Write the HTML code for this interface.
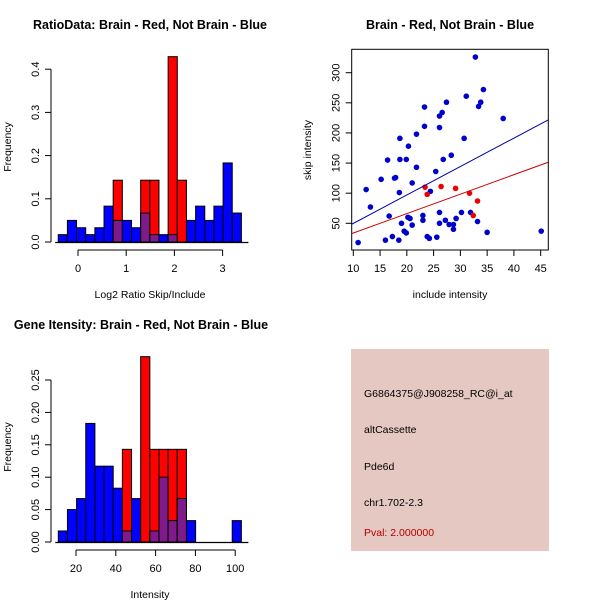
<!DOCTYPE html>
<html><head><meta charset="utf-8"><style>
body{margin:0;background:#fff;}
svg{display:block;font-family:"Liberation Sans",sans-serif;}
</style></head><body>
<svg id="s" width="600" height="600" viewBox="0 0 600 600">
<rect x="351" y="349" width="198" height="202" fill="#e5c8c2"/>
<g font-size="10.5" fill="#000">
<text x="364" y="397">G6864375@J908258_RC@i_at</text>
<text x="364" y="433">altCassette</text>
<text x="364" y="470">Pde6d</text>
<text x="364" y="506">chr1.702-2.3</text>
<text x="364" y="536" fill="#b00000">Pval: 2.000000</text>
</g>
</svg>
<script>
// ---- Histogram 1 data ----
const h1BinStart = -0.41, h1BinWidth = 0.19;
const h1Blue = [0.017,0.05,0.033,0.017,0.033,0.083,0.05,0.05,0.033,0.067,0.017,0.017,0.017,0,0.05,0.083,0.05,0.083,0.183,0.067];
const h1Red  = [0,0,0,0,0,0,0.143,0,0,0.143,0.143,0,0.429,0.143,0,0,0,0,0,0];
const h1YTicks = [0,0.1,0.2,0.3,0.4];
const h1YLabels = ["0.0","0.1","0.2","0.3","0.4"];
const h1XTicks = [0,1,2,3];
// ---- Histogram 2 data ----
const h2BinStart = 11.1, h2BinWidth = 4.6;
const h2Blue = [0.017,0.05,0.067,0.183,0.117,0.117,0.083,0.017,0.067,0,0.017,0.1,0.033,0.067,0.033,0,0,0,0,0.033];
const h2Red  = [0,0,0,0,0,0,0,0.143,0,0.286,0.143,0.143,0.143,0.143,0,0,0,0,0,0];
const h2YTicks = [0,0.05,0.1,0.15,0.2,0.25];
const h2YLabels = ["0.00","0.05","0.10","0.15","0.20","0.25"];
const h2XTicks = [20,40,60,80,100];
// ---- Scatter data ----
const blueX = [10.9,12.4,13.2,15.2,16.4,16.0,16.7,17.3,17.7,17.9,18.6,18.7,18.7,18.5,19.0,19.5,19.9,19.9,20.3,20.2,20.6,21.0,21.0,21.8,21.8,23.0,23.0,23.3,23.3,23.8,24.2,24.4,25.4,25.6,26.1,26.1,26.1,26.1,26.6,26.8,27.2,27.4,27.9,28.3,28.7,28.7,29.2,30.2,30.7,31.1,31.9,32.8,33.2,33.4,33.8,34.3,35.0,38.0,45.1];
const blueY = [18,106,77,123,155,22,62,28,125,126,101,191,156,22,50,37,34,156,178,60,58,117,47,143,198,63,55,243,211,28,25,103,136,27,228,209,68,50,234,156,55,251,48,163,48,40,58,68,191,261,68,326,53,244,251,272,35,224,37];
const redX = [23.4,23.8,26.4,29.1,31.7,32.4,33.2];
const redY = [110,98,111,108,100,63,87];
const blueFit = [2.6,4.72]; // intercept, slope
const redFit = [1.5,3.23];
const scXTicks = [10,15,20,25,30,35,40,45];
const scYTicks = [50,100,150,200,250,300];

const NS="http://www.w3.org/2000/svg";
const svg=document.getElementById('s');
function el(tag,attrs,parent){const e=document.createElementNS(NS,tag);for(const k in attrs)e.setAttribute(k,attrs[k]);(parent||svg).appendChild(e);return e;}
function txt(x,y,s,attrs,parent){const t=el('text',Object.assign({x:x,y:y},attrs||{}),parent);t.textContent=s;return t;}

function hist(o){
  const g=el('g',{});
  
  
  const X=v=>o.x0+(v-o.xv0)*o.xs, Y=v=>o.y0-v*o.ys;
  for(let i=0;i<o.blue.length;i++){
    const a=X(o.bs+i*o.bw), b=X(o.bs+(i+1)*o.bw);
    const bv=o.blue[i], rv=o.red[i];
    if(bv>0){const r=el('rect',{x:a,y:Y(bv),width:b-a,height:Y(0)-Y(bv),fill:'#0000ff',stroke:'#000','stroke-width':1},g);
      
      }
    if(rv>0){const r=el('rect',{x:a,y:Y(rv),width:b-a,height:Y(0)-Y(rv),fill:'#ff0000',stroke:'#000','stroke-width':1},g);
      
      
      const m=Math.min(bv,rv);
      if(m>0){const p=el('rect',{x:a,y:Y(m),width:b-a,height:Y(0)-Y(m),fill:'#7f1a8a',stroke:'#000','stroke-width':1},g);
        
        }}
  }
  // y axis
  const ya=el('g',{},g);
  
  
  el('line',{x1:o.yax,x2:o.yax,y1:Y(o.yt[0]),y2:Y(o.yt[o.yt.length-1]),stroke:'#000'},ya);
  o.yt.forEach((v,i)=>{el('line',{x1:o.yax-6,x2:o.yax,y1:Y(v),y2:Y(v),stroke:'#000'},ya);
    txt(o.yax-12,Y(v),o.yl[i],{'font-size':11,'text-anchor':'middle',transform:`rotate(-90 ${o.yax-12} ${Y(v)})`},ya);});
  const xa=el('g',{},g);
  
  
  el('line',{x1:X(o.xt[0]),x2:X(o.xt[o.xt.length-1]),y1:o.xay,y2:o.xay,stroke:'#000'},xa);
  o.xt.forEach(v=>{el('line',{x1:X(v),x2:X(v),y1:o.xay,y2:o.xay+6,stroke:'#000'},xa);
    txt(X(v),o.xay+22,String(v),{'font-size':11,'text-anchor':'middle'},xa);});
  el('line',{x1:X(o.bs)-3,x2:X(o.bs+o.blue.length*o.bw)+7,y1:Y(0)+0.5,y2:Y(0)+0.5,stroke:'#000','stroke-width':1.3},g);
}
hist({name:'ratio-histogram',blue:h1Blue,red:h1Red,bs:h1BinStart,bw:h1BinWidth,x0:78,xv0:0,xs:48.2,y0:242,ys:432,
  yt:h1YTicks,yl:h1YLabels,xt:h1XTicks,yax:51,xay:250});
hist({name:'intensity-histogram',blue:h2Blue,red:h2Red,bs:h2BinStart,bw:h2BinWidth,x0:76,xv0:20,xs:1.99,y0:542,ys:648,
  yt:h2YTicks,yl:h2YLabels,xt:h2XTicks,yax:51,xay:550});

// titles and axis labels
const t1=txt(150,29,'RatioData: Brain - Red, Not Brain - Blue',{'font-size':12.5,'font-weight':'bold','text-anchor':'middle'});


const t2=txt(450,29,'Brain - Red, Not Brain - Blue',{'font-size':12.5,'font-weight':'bold','text-anchor':'middle'});


const t3=txt(141,329,'Gene Itensity: Brain - Red, Not Brain - Blue',{'font-size':12.5,'font-weight':'bold','text-anchor':'middle'});


const l1=txt(150,298,'Log2 Ratio Skip/Include',{'font-size':10.5,'text-anchor':'middle'});


const l2=txt(11,147,'Frequency',{'font-size':10.5,'text-anchor':'middle',transform:'rotate(-90 11 147)'});


const l3=txt(150,598,'Intensity',{'font-size':10.5,'text-anchor':'middle'});


const l4=txt(11,447,'Frequency',{'font-size':10.5,'text-anchor':'middle',transform:'rotate(-90 11 447)'});


const l5=txt(450,298,'include intensity',{'font-size':10.5,'text-anchor':'middle'});


const l6=txt(311,150,'skip intensity',{'font-size':10.5,'text-anchor':'middle',transform:'rotate(-90 311 150)'});



// scatter
const sg=el('g',{});


const SX=v=>353.3+(v-10)*5.354, SY=v=>223.3-(v-50)*0.6024;
const bl={x:351.7,y:49.3,w:196.6,h:200.7};
el('rect',{x:bl.x,y:bl.y,width:bl.w,height:bl.h,fill:'none',stroke:'#000'},sg);
el('clipPath',{id:'cp'},sg).appendChild(el('rect',{x:bl.x,y:bl.y,width:bl.w,height:bl.h},sg));
scXTicks.forEach(v=>{el('line',{x1:SX(v),x2:SX(v),y1:bl.y+bl.h,y2:bl.y+bl.h+6,stroke:'#000'},sg);
  txt(SX(v),bl.y+bl.h+22,String(v),{'font-size':11,'text-anchor':'middle'},sg);});
scYTicks.forEach(v=>{el('line',{x1:bl.x-6,x2:bl.x,y1:SY(v),y2:SY(v),stroke:'#000'},sg);
  txt(bl.x-12,SY(v),String(v),{'font-size':11,'text-anchor':'middle',transform:`rotate(-90 ${bl.x-12} ${SY(v)})`},sg);});
blueX.forEach((x,i)=>{const c=el('circle',{cx:SX(x),cy:SY(blueY[i]),r:2.8,fill:'#0000cc'},sg);
  
  });
redX.forEach((x,i)=>{const c=el('circle',{cx:SX(x),cy:SY(redY[i]),r:2.8,fill:'#ee0000'},sg);
  
  });
const xa0=9.69, xa1=46.4;
const bf=el('line',{x1:SX(xa0),y1:SY(blueFit[0]+blueFit[1]*xa0),x2:SX(xa1),y2:SY(blueFit[0]+blueFit[1]*xa1),stroke:'#0000aa','stroke-width':1,'clip-path':'url(#cp)'},sg);


const rf=el('line',{x1:SX(xa0),y1:SY(redFit[0]+redFit[1]*xa0),x2:SX(xa1),y2:SY(redFit[0]+redFit[1]*xa1),stroke:'#cc0000','stroke-width':1,'clip-path':'url(#cp)'},sg);


</script>
</body></html>
